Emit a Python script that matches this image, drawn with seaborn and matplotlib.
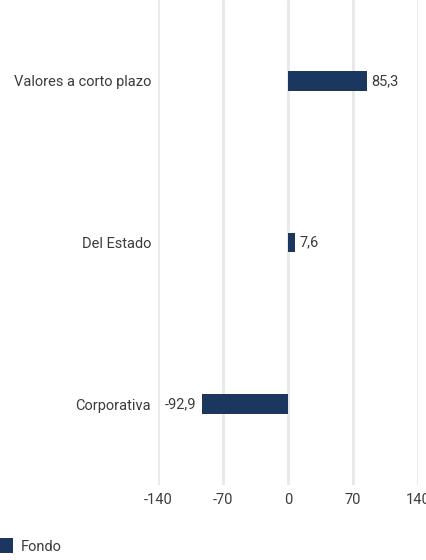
import matplotlib
matplotlib.use("Agg")
import matplotlib.pyplot as plt
from matplotlib import font_manager
from matplotlib.patches import Patch
import seaborn as sns
import pandas as pd

categories = ["Valores a corto plazo", "Del Estado", "Corporativa"]
values = [85.3, 7.6, -92.9]
value_labels = ["85,3", "7,6", "-92,9"]
x_ticks = [-140, -70, 0, 70, 140]
x_tick_labels = ["-140", "-70", "0", "70", "140"]
series_name = "Fondo"

BAR = "#1b365f"
TXT = "#3c3c3c"
GRID = "#e8e8e8"

sns.set_theme(style="white")
names = {f.name for f in font_manager.fontManager.ttflist}
fam = "Roboto"
for cand in ["Liberation Sans Narrow", "DejaVu Sans Condensed"]:
    if cand in names:
        fam = cand
        break
plt.rcParams["font.family"] = [fam, "DejaVu Sans"]
FS = 10.5

df = pd.DataFrame({"cat": categories, "val": values})

fig = plt.figure(figsize=(4.26, 5.6), dpi=100)
ax = fig.add_axes([0.371, 0.134, 0.61, 0.866])
sns.barplot(data=df, x="val", y="cat", color=BAR, width=0.12, saturation=1,
            linewidth=0, ax=ax, orient="h")

ax.set_xlim(-140, 140)
ax.set_ylim(2.5, -0.5)
ax.set_xticks(x_ticks)
ax.set_xticklabels(x_tick_labels, fontsize=FS, color=TXT)
ax.tick_params(axis="y", labelsize=FS, labelcolor=TXT, length=0, pad=5)
ax.tick_params(axis="x", length=0, pad=6)
ax.set_xlabel("")
ax.set_ylabel("")
for s in ax.spines.values():
    s.set_visible(False)
ax.xaxis.grid(True, color=GRID, linewidth=2)
ax.set_axisbelow(True)

for i, (v, lab) in enumerate(zip(values, value_labels)):
    if v >= 0:
        ax.annotate(lab, (v, i), xytext=(3, 0), textcoords="offset points",
                    ha="left", va="center", fontsize=FS, color=TXT)
    else:
        ax.annotate(lab, (v, i), xytext=(-4, 0), textcoords="offset points",
                    ha="right", va="center", fontsize=FS, color=TXT)

handles = [Patch(facecolor=BAR, edgecolor="none", label=series_name)]
fig.legend(handles=handles, loc="lower left", bbox_to_anchor=(-0.03, -0.012),
           frameon=False, fontsize=FS, handlelength=0.85, handleheight=1.2,
           handletextpad=0.55, labelcolor=TXT)

fig.savefig("out.png", dpi=100)
